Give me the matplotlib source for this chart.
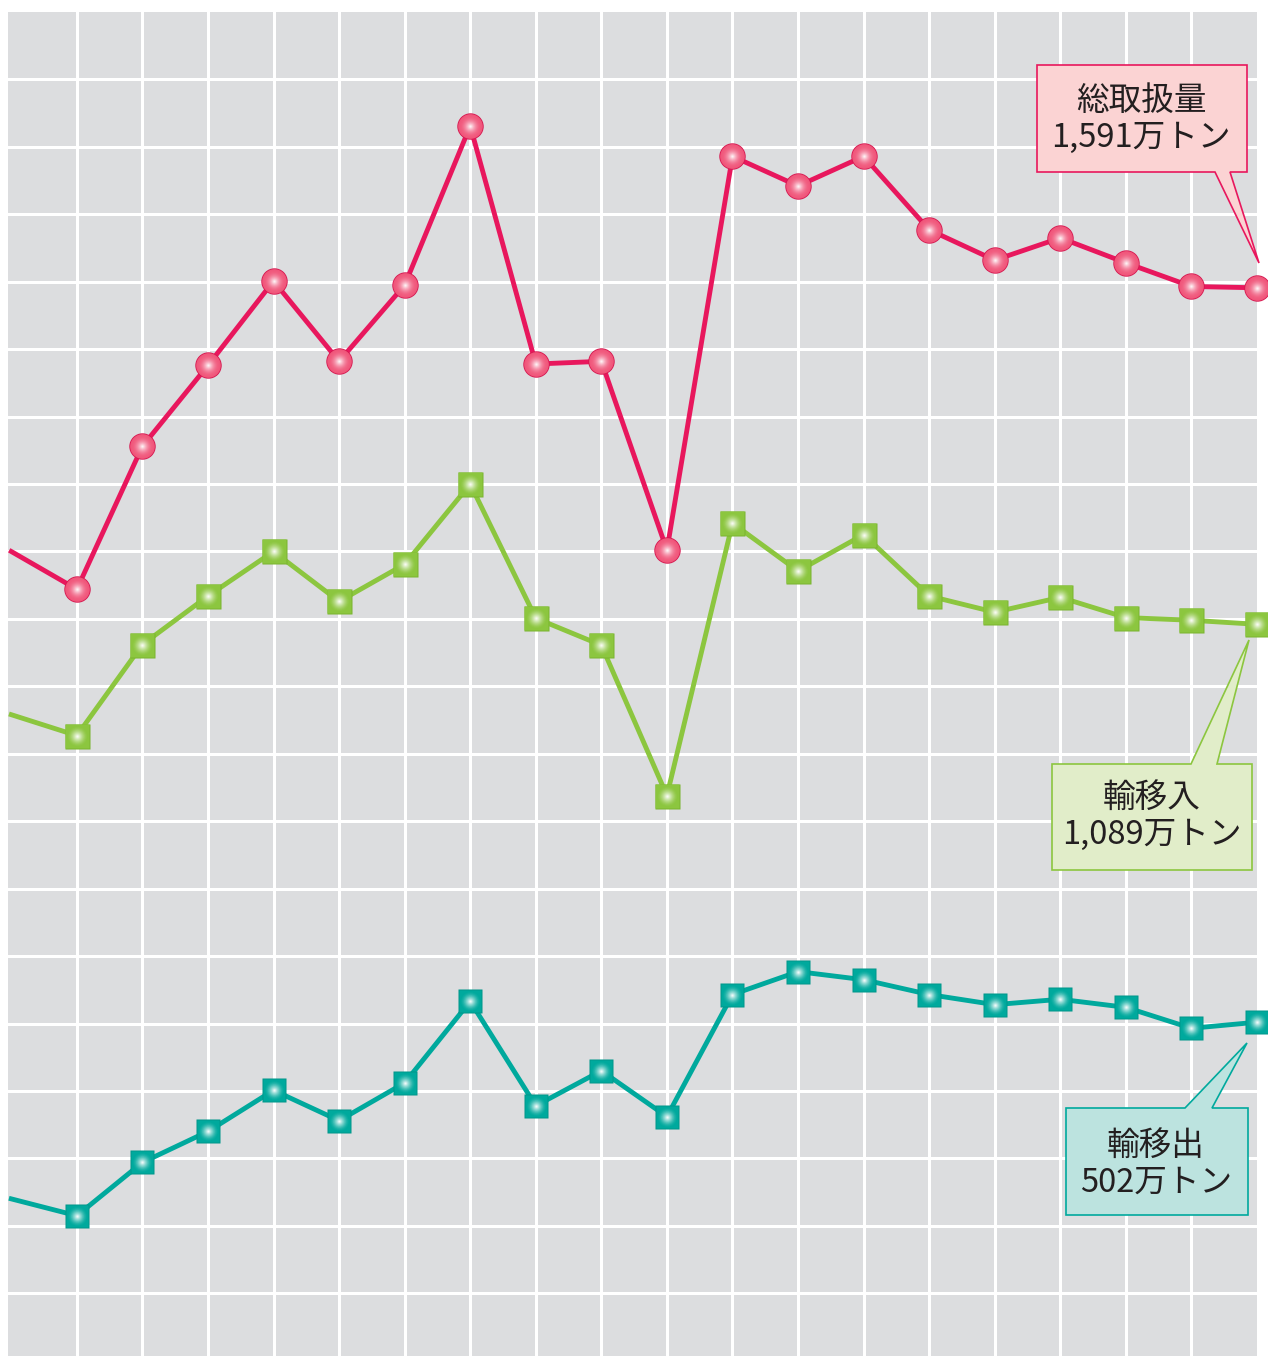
import numpy as np
import matplotlib.pyplot as plt
from matplotlib.colors import to_rgb
from matplotlib.patches import Polygon

plt.rcParams['font.family'] = ['Noto Sans CJK JP', 'DejaVu Sans']

# 20 periods, the first one runs off the left edge of the chart
periods = list(range(20))
total = [1200, 1144, 1356, 1476, 1601, 1482, 1595, 1831, 1478, 1482,
         1202, 1786, 1742, 1786, 1677, 1632, 1665, 1628, 1593, 1591]
imports = [958, 927, 1062, 1134, 1200, 1126, 1181, 1300, 1101, 1061,
           838, 1242, 1171, 1225, 1134, 1110, 1132, 1102, 1098, 1092]
exports = [240, 215, 294, 340, 401, 356, 412, 533, 378, 430,
           362, 543, 577, 565, 543, 528, 536, 524, 493, 502]

labels = ['総取扱量\n1,591万トン', '輸移入\n1,089万トン', '輸移出\n502万トン']

W, H = 1268, 1356
fig = plt.figure(figsize=(W / 100, H / 100), dpi=100)
fig.patch.set_facecolor('white')
ax = fig.add_axes([8 / W, 0, (1257 - 8) / W, (H - 12) / H])
ax.set_facecolor('#dcdddf')
ax.set_xlim(-0.05, 19)
ax.set_ylim(7, 2000)
ax.set_xticks(range(1, 19))
ax.set_yticks(range(100, 2000, 100))
ax.grid(True, color='white', linewidth=2.2)
ax.tick_params(length=0, labelbottom=False, labelleft=False)
for s in ax.spines.values():
    s.set_visible(False)


def blend(c, t):
    r, g, b = to_rgb(c)
    return (r + (1 - r) * t, g + (1 - g) * t, b + (1 - b) * t)


def glossy(x, y, color, edge, marker, size):
    ax.plot(x, y, linestyle='none', marker=marker, ms=size, mfc=edge,
            mec='none', clip_on=False, zorder=5)
    ax.plot(x, y, linestyle='none', marker=marker, ms=size - 1.2, mfc=color,
            mec='none', clip_on=False, zorder=5)
    n = 14
    spread = 0.92 if marker == 'o' else 0.85
    power = 1.8 if marker == 'o' else 1.4
    for i in range(n):
        frac = i / (n - 1)
        ms = (size - 2) * (1 - frac) * spread + 0.4
        ax.plot(x, y, linestyle='none', marker='o', ms=ms,
                mfc=blend(color, 0.03 + 0.97 * frac ** power), mec='none',
                clip_on=False, zorder=6)


series = [
    (total, '#e8175d', '#f0557a', '#d5164f', 'o', 19),
    (imports, '#8cc63f', '#8cc63f', '#7ab52f', 's', 18),
    (exports, '#00a99d', '#00a99d', '#00978b', 's', 17.5),
]
for vals, line_c, fill_c, edge_c, mk, sz in series:
    ax.plot(periods, vals, color=line_c, linewidth=3.5, zorder=4)
    glossy(periods[1:], vals[1:], fill_c, edge_c, mk, sz)

# callout boxes (pixel coordinates, y from top)
callouts = [
    ([(1037, 65), (1247, 65), (1247, 172), (1230, 172), (1259, 263),
      (1215, 172), (1037, 172)], '#fbd3d3', '#e8175d', (1141, 119)),
    ([(1052, 870), (1252, 870), (1252, 764), (1217, 764), (1249, 640),
      (1191, 764), (1052, 764)], '#e1edc9', '#8cc63f', (1152, 816)),
    ([(1066, 1215), (1248, 1215), (1248, 1108), (1212, 1108), (1247, 1043),
      (1185, 1108), (1066, 1108)], '#bce3df', '#00a99d', (1156, 1164)),
]
for (pts, face, edge, (tx, ty)), text in zip(callouts, labels):
    fpts = [(px / W, 1 - py / H) for px, py in pts]
    fig.add_artist(Polygon(fpts, closed=True, facecolor=face, edgecolor=edge,
                           linewidth=1.2, transform=fig.transFigure, zorder=10))
    fig.text(tx / W, 1 - ty / H, text, ha='center', va='center',
             fontsize=23.5, color='#231f20', linespacing=1.2, zorder=11)

fig.savefig('out.png', dpi=100)
